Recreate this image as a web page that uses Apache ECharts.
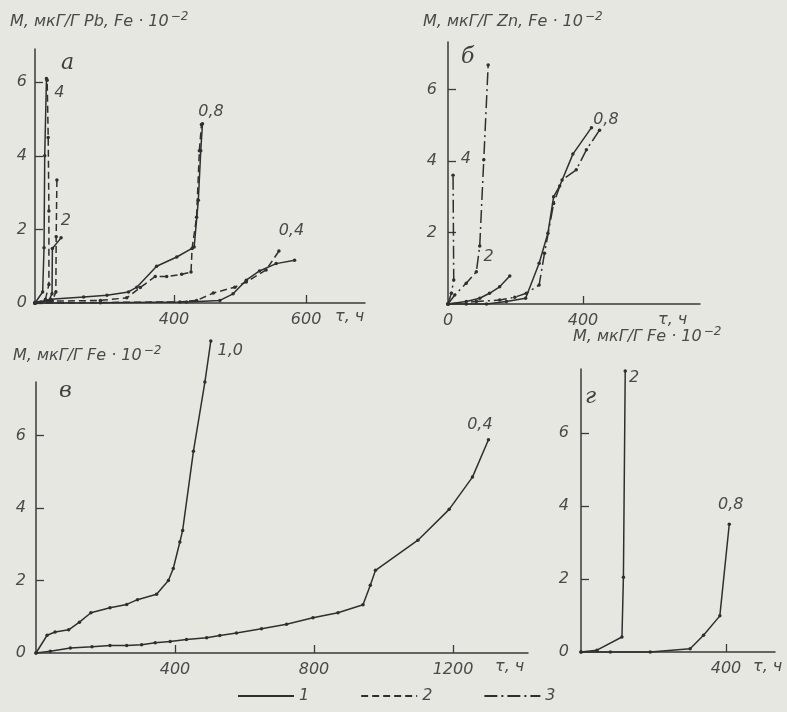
<!DOCTYPE html>
<html><head><meta charset="utf-8">
<script src="https://cdn.jsdelivr.net/npm/echarts@6/dist/echarts.min.js"></script>
<style>html,body{margin:0;padding:0;background:#e7e7e2}#c{width:787px;height:712px}</style>
</head><body><div id="c"></div>
<script>
// ---------- Panel а (Pb, Fe) ----------
const a08_1_x = [0, 45, 140, 207, 269, 293, 350, 408, 458, 470, 477, 482];
const a08_1_y = [0, 0.1, 0.16, 0.21, 0.3, 0.43, 1.0, 1.25, 1.52, 2.79, 4.14, 4.87];
const a08_2_x = [0, 45, 188, 264, 303, 346, 379, 422, 449, 452, 465, 473, 479];
const a08_2_y = [0, 0.05, 0.07, 0.14, 0.42, 0.72, 0.72, 0.78, 0.84, 1.48, 2.33, 4.14, 4.85];
const a04_1_x = [0, 188, 436, 532, 570, 608, 646, 694, 747];
const a04_1_y = [0, 0.01, 0.03, 0.07, 0.25, 0.62, 0.87, 1.07, 1.16];
const a04_2_x = [0, 417, 465, 513, 575, 608, 665, 702];
const a04_2_y = [0, 0.03, 0.07, 0.27, 0.43, 0.57, 0.9, 1.41];
const a4_1_x = [0, 22, 26, 28, 33];
const a4_1_y = [0, 0.3, 1.5, 4.0, 6.1];
const a4_2_x = [0, 30, 40, 40, 38, 35];
const a4_2_y = [0, 0.1, 0.5, 2.5, 4.5, 6.05];
const a2_1_x = [0, 40, 49, 50, 75];
const a2_1_y = [0, 0.07, 0.25, 1.48, 1.77];
const a2_2_x = [0, 50, 60, 61, 63];
const a2_2_y = [0, 0.06, 0.3, 1.8, 3.34];
const aXTicks = [400, 780];
const aXTickText = ['400', '600'];
const aYTicks = [0, 2, 4, 6];

// ---------- Panel б (Zn, Fe) ----------
const b08_1_x = [0, 54, 114, 173, 230, 270, 296, 313, 331, 370, 425];
const b08_1_y = [0, 0, 0, 0.07, 0.16, 1.14, 1.98, 3.0, 3.3, 4.19, 4.93];
const b08_3_x = [0, 84, 153, 198, 232, 270, 286, 313, 338, 380, 410, 449];
const b08_3_y = [0, 0.07, 0.11, 0.19, 0.3, 0.53, 1.42, 2.81, 3.47, 3.75, 4.31, 4.86];
const b2_1_x = [0, 54, 94, 123, 153, 183];
const b2_1_y = [0, 0.07, 0.16, 0.3, 0.48, 0.78];
const b2_3_x = [0, 20, 54, 84, 94, 106, 119];
const b2_3_y = [0, 0.25, 0.58, 0.9, 1.62, 4.03, 6.68];
const b4_3_x = [0, 10, 17, 15];
const b4_3_y = [0, 0.3, 0.67, 3.6];
const bXTicks = [400];
const bXLabels = [0, 400];
const bYTicks = [2, 4, 6];

// ---------- Panel в (Fe) ----------
const c10_x = [0, 32, 55, 94, 125, 158, 213, 261, 292, 347, 381, 395, 414, 422, 453, 486, 503];
const c10_y = [0, 0.49, 0.58, 0.64, 0.85, 1.11, 1.25, 1.34, 1.47, 1.62, 2.0, 2.33, 3.06, 3.38, 5.56, 7.47, 8.6];
const c04_x = [0, 41, 99, 161, 213, 261, 304, 343, 386, 433, 491, 529, 577, 649, 721, 797, 869, 941, 962, 977, 1099, 1189, 1256, 1302];
const c04_y = [0, 0.05, 0.14, 0.17, 0.21, 0.21, 0.23, 0.28, 0.32, 0.37, 0.42, 0.48, 0.55, 0.67, 0.79, 0.97, 1.11, 1.33, 1.87, 2.28, 3.11, 3.96, 4.85, 5.88];
const cXTicks = [400, 800, 1200];
const cYTicks = [2, 4, 6];
const cYLabels = [0, 2, 4, 6];

// ---------- Panel г (Fe) ----------
const d2_x = [0, 44, 113, 117, 122];
const d2_y = [0, 0.05, 0.41, 2.05, 7.7];
const d08_x = [0, 81, 191, 301, 338, 383, 409];
const d08_y = [0, 0, 0, 0.09, 0.46, 0.99, 3.5];
const dXTicks = [400];
const dYTicks = [2, 4, 6];
const dYLabels = [0, 2, 4, 6];

const legendNames = ['1', '2', '3'];

// ---------- styling ----------
const INK = '#2f2f2f';
const TXT = '#4a4a4a';
const FONT = 'DejaVu Sans';
const DASH = [7, 4];
const DASHDOT = [13, 4, 2, 4];
const lineTypes = {'1': 'solid', '2': DASH, '3': DASHDOT};
const txt = {fontFamily: FONT, fontStyle: 'italic', fontSize: 16, color: TXT};

function series(grid, xs, ys, kind, lab) {
  const data = xs.map((x, i) => {
    const it = {value: [x, ys[i]]};
    if (lab && i === (lab.idx != null ? lab.idx : xs.length - 1)) {
      it.label = Object.assign({show: true, formatter: lab.text, position: 'right', distance: 4,
        offset: [lab.dx, lab.dy]}, txt);
    }
    return it;
  });
  return {
    type: 'line', xAxisIndex: grid, yAxisIndex: grid, data, clip: false,
    symbol: 'circle', symbolSize: 3.5, silent: true,
    itemStyle: {color: INK},
    lineStyle: {color: INK, width: 1.5, type: lineTypes[kind]},
    z: 3
  };
}

function xAxis(grid, max, ticks, labels, fmt, name, gap, pad) {
  return {
    type: 'value', gridIndex: grid, min: 0, max: max,
    axisLine: {show: true, onZero: false, lineStyle: {color: '#3a3a3a', width: 1.5}},
    axisTick: {show: true, inside: true, length: 8, customValues: ticks, lineStyle: {color: '#3a3a3a', width: 1.3}},
    axisLabel: Object.assign({customValues: labels, margin: 9, formatter: fmt || (v => String(v))}, txt),
    splitLine: {show: false},
    name: name, nameLocation: 'end', nameGap: gap,
    nameTextStyle: Object.assign({align: 'left', verticalAlign: 'top', padding: [pad, 0, 0, 0]}, txt)
  };
}
function yAxis(grid, max, ticks, labels, margin) {
  return {
    type: 'value', gridIndex: grid, min: 0, max: max,
    axisLine: {show: true, onZero: false, lineStyle: {color: '#3a3a3a', width: 1.5}},
    axisTick: {show: true, inside: true, length: 8, customValues: ticks, lineStyle: {color: '#3a3a3a', width: 1.3}},
    axisLabel: Object.assign({customValues: labels, margin: margin, formatter: v => String(v)}, txt),
    splitLine: {show: false}
  };
}

const TAU = 'τ, ч';
const option = {
  animation: false,
  backgroundColor: '#e7e7e2',
  grid: [
    {left: 35, top: 49, width: 330, height: 254},
    {left: 448, top: 42, width: 252, height: 262},
    {left: 36, top: 382, width: 492, height: 271},
    {left: 581, top: 369, width: 194, height: 283}
  ],
  xAxis: [
    xAxis(0, 330 / 0.3475, aXTicks, aXTicks, v => aXTickText[aXTicks.indexOf(v)], TAU, -30, 6),
    xAxis(1, 252 / 0.3375, bXTicks, bXLabels, null, TAU, -42, 8),
    xAxis(2, 492 / 0.3475, cXTicks, cXTicks, null, TAU, -33, 6),
    xAxis(3, 194 / 0.3625, dXTicks, dXTicks, null, TAU, -22, 7)
  ],
  yAxis: [
    yAxis(0, 254 / 36.8, aYTicks, aYTicks, 8),
    yAxis(1, 262 / 35.77, bYTicks, bYTicks, 11),
    yAxis(2, 271 / 36.27, cYTicks, cYLabels, 10),
    yAxis(3, 283 / 36.5, dYTicks, dYLabels, 12)
  ],
  legend: {
    data: legendNames, left: 237, top: 688, padding: 0, itemWidth: 56, itemHeight: 14, itemGap: 51,
    itemStyle: {opacity: 0}, textStyle: txt, selectedMode: false
  },
  graphic: [],
  series: [
    // legend carriers
    {name: '1', type: 'line', data: [], symbol: 'none', xAxisIndex: 0, yAxisIndex: 0, lineStyle: {color: INK, width: 1.5, type: 'solid'}, itemStyle: {color: INK}},
    {name: '2', type: 'line', data: [], symbol: 'none', xAxisIndex: 0, yAxisIndex: 0, lineStyle: {color: INK, width: 1.5, type: DASH}, itemStyle: {color: INK}},
    {name: '3', type: 'line', data: [], symbol: 'none', xAxisIndex: 0, yAxisIndex: 0, lineStyle: {color: INK, width: 1.5, type: DASHDOT}, itemStyle: {color: INK}},
    // а
    series(0, a08_1_x, a08_1_y, '1', {text: '0,8', dx: -10, dy: -12}),
    series(0, a08_2_x, a08_2_y, '2'),
    series(0, a04_1_x, a04_1_y, '1'),
    series(0, a04_2_x, a04_2_y, '2', {text: '0,4', dx: -6, dy: -20}),
    series(0, a4_1_x, a4_1_y, '1', {text: '4', dx: 2, dy: 14}),
    series(0, a4_2_x, a4_2_y, '2'),
    series(0, a2_1_x, a2_1_y, '1', {text: '2', dx: -6, dy: -17}),
    series(0, a2_2_x, a2_2_y, '2'),
    // б
    series(1, b08_1_x, b08_1_y, '1', {text: '0,8', dx: -4, dy: -8}),
    series(1, b08_3_x, b08_3_y, '3'),
    series(1, b2_1_x, b2_1_y, '1', {text: '2', dx: -32, dy: -19}),
    series(1, b2_3_x, b2_3_y, '3'),
    series(1, b4_3_x, b4_3_y, '3', {text: '4', dx: 2, dy: -16}),
    // в
    series(2, c10_x, c10_y, '1', {text: '1,0', dx: 1, dy: 10}),
    series(2, c04_x, c04_y, '1', {text: '0,4', dx: -27, dy: -15}),
    // г
    series(3, d2_x, d2_y, '1', {text: '2', dx: -2, dy: 7}),
    series(3, d08_x, d08_y, '1', {text: '0,8', dx: -17, dy: -19})
  ]
};

// titles & panel letters
const rich = {
  m: {fontFamily: FONT, fontStyle: 'italic', fontSize: 16, fill: TXT},
  s: {fontFamily: FONT, fontStyle: 'italic', fontSize: 12, fill: TXT, padding: [0, 0, 10, 2]}
};
function title(x, y, main) {
  return {type: 'text', left: x, top: y, silent: true,
    style: {text: '{m|' + main + '}{s|−2}', rich: rich, fill: TXT}};
}
function letter(x, y, t) {
  return {type: 'text', left: x, top: y, silent: true,
    style: {text: t, fontFamily: 'DejaVu Serif', fontStyle: 'italic', fontSize: 22, fill: '#3f3f3f'}};
}
option.graphic = [
  title(10, 11, 'М, мкГ/Г Pb, Fe · 10'),
  title(423, 11, 'М, мкГ/Г Zn, Fe · 10'),
  title(13, 345, 'М, мкГ/Г Fe · 10'),
  title(573, 326, 'М, мкГ/Г Fe · 10'),
  letter(61, 52, 'а'),
  letter(461, 46, 'б'),
  letter(59, 380, 'в'),
  letter(585, 386, 'г')
];

const chart = echarts.init(document.getElementById('c'), null, {renderer: 'canvas'});
chart.setOption(option);
</script></body></html>
